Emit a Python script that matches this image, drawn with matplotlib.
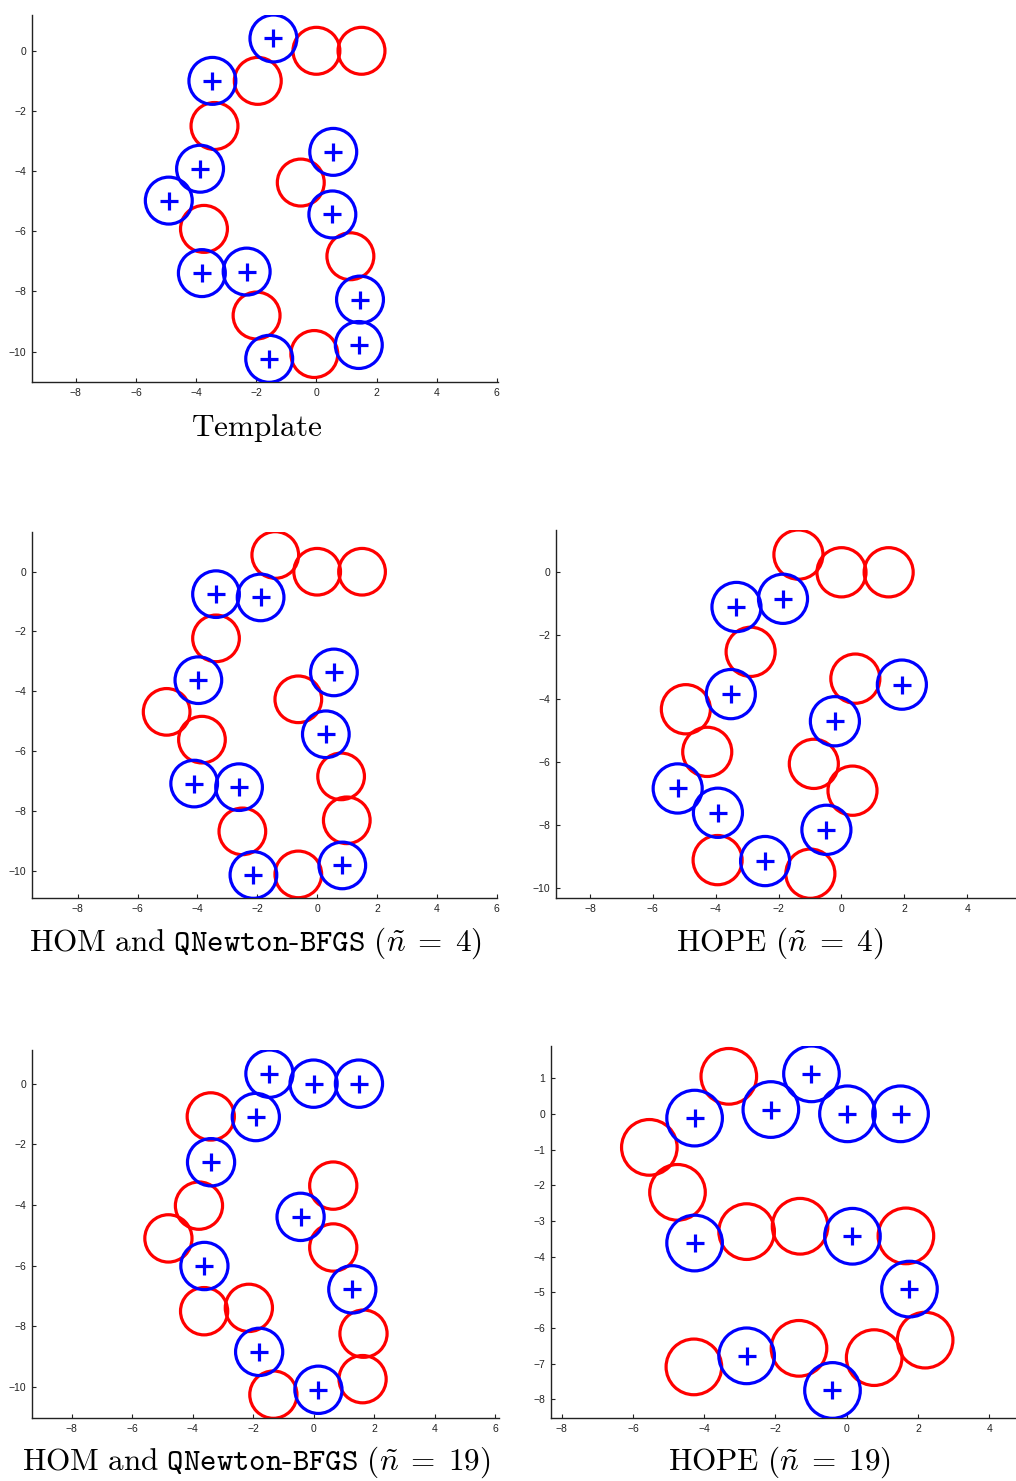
import matplotlib
matplotlib.use("Agg")
import matplotlib.pyplot as plt
from matplotlib.patches import Circle

plt.rcParams['mathtext.fontset'] = 'cm'
plt.rcParams['font.family'] = ['Liberation Sans', 'DejaVu Sans']

W, H = 1016, 1481
R = 0.78  # landmark radius

# Template shape
tmpl_blue_x = [-1.43, -3.46, 0.56, -3.87, -4.91, 0.53, -3.81, -2.32, 1.45, 1.41, -1.57]
tmpl_blue_y = [0.41, -1.00, -3.36, -3.92, -4.98, -5.44, -7.39, -7.34, -8.27, -9.78, -10.24]
tmpl_red_x = [0.0, 1.5, -1.95, -3.39, -0.52, -3.74, 1.13, -1.99, -0.07]
tmpl_red_y = [0.0, 0.0, -1.00, -2.50, -4.38, -5.92, -6.83, -8.80, -10.08]

# HOM and QNewton-BFGS, n = 4
hom4_blue_x = [-3.38, -1.89, 0.56, -3.97, 0.29, -4.11, -2.61, 0.84, -2.13]
hom4_blue_y = [-0.75, -0.86, -3.37, -3.63, -5.44, -7.09, -7.21, -9.83, -10.15]
hom4_red_x = [-1.40, 0.0, 1.5, -3.38, -0.63, -5.03, -3.85, 0.80, 0.99, -2.50, -0.63]
hom4_red_y = [0.56, 0.0, 0.0, -2.23, -4.27, -4.69, -5.62, -6.85, -8.32, -8.69, -10.13]

# HOPE, n = 4
hope4_blue_x = [-3.34, -1.86, -3.52, 1.92, -0.21, -5.21, -3.93, -0.48, -2.43]
hope4_blue_y = [-1.10, -0.84, -3.86, -3.56, -4.72, -6.85, -7.62, -8.16, -9.15]
hope4_red_x = [-1.37, 0.0, 1.5, -2.89, 0.44, -4.95, -4.27, -0.88, 0.35, -3.94, -0.99]
hope4_red_y = [0.56, 0.0, 0.0, -2.52, -3.37, -4.34, -5.69, -6.07, -6.92, -9.12, -9.55]

# HOM and QNewton-BFGS, n = 19
hom19_blue_x = [-1.46, 0.0, 1.5, -1.91, -3.39, -0.43, -3.61, 1.28, -1.80, 0.16]
hom19_blue_y = [0.33, 0.0, 0.0, -1.10, -2.59, -4.39, -6.01, -6.78, -8.84, -10.09]
hom19_red_x = [-3.40, 0.65, -3.79, -4.80, 0.65, -3.62, -2.14, 1.65, 1.62, -1.33]
hom19_red_y = [-1.08, -3.36, -4.02, -5.10, -5.40, -7.50, -7.39, -8.24, -9.74, -10.25]

# HOPE, n = 19
hope19_blue_x = [-4.27, -2.13, -0.99, 0.02, 1.51, -4.27, 0.16, 1.76, -2.81, -0.40]
hope19_blue_y = [-0.12, 0.12, 1.12, 0.0, 0.0, -3.62, -3.43, -4.91, -6.78, -7.75]
hope19_red_x = [-3.31, -5.54, -4.75, -2.81, -1.31, 1.66, -4.29, -1.34, 0.77, 2.20]
hope19_red_y = [1.05, -0.94, -2.20, -3.30, -3.15, -3.42, -7.09, -6.57, -6.83, -6.34]

panels = [
    # (blue x, blue y, red x, red y, box px (l, r, t, b), xlim, xticks, yticks, title, title centre px)
    (tmpl_blue_x, tmpl_blue_y, tmpl_red_x, tmpl_red_y,
     (31.7, 498, 15, 382.3), (-9.47, 6.04), range(-8, 7, 2), range(-10, 1, 2),
     r'$\mathrm{Template}$', (257, 428)),
    (hom4_blue_x, hom4_blue_y, hom4_red_x, hom4_red_y,
     (31.7, 496.7, 531.7, 898.3), (-9.54, 6.0), range(-8, 7, 2), range(-10, 1, 2),
     r'$\mathrm{HOM\ and\ }\mathtt{QNewton\text{-}BFGS}\ (\tilde{n}\;=\;4)$', (256, 943)),
    (hope4_blue_x, hope4_blue_y, hope4_red_x, hope4_red_y,
     (556, 1016, 530, 898.3), (-9.08, 5.55), range(-8, 5, 2), range(-10, 1, 2),
     r'$\mathrm{HOPE}\ (\tilde{n}\;=\;4)$', (780, 943)),
    (hom19_blue_x, hom19_blue_y, hom19_red_x, hom19_red_y,
     (31.7, 499, 1050, 1418.3), (-9.32, 6.13), range(-8, 7, 2), range(-10, 1, 2),
     r'$\mathrm{HOM\ and\ }\mathtt{QNewton\text{-}BFGS}\ (\tilde{n}\;=\;19)$', (256, 1462)),
    (hope19_blue_x, hope19_blue_y, hope19_red_x, hope19_red_y,
     (551, 1016, 1046, 1418.3), (-8.30, 4.75), range(-8, 5, 2), range(-8, 2, 1),
     r'$\mathrm{HOPE}\ (\tilde{n}\;=\;19)$', (780, 1462)),
]

fig = plt.figure(figsize=(W / 100, H / 100), dpi=100)

for bx, by, rx, ry, box, xlim, xticks, yticks, title, tpos in panels:
    l, r, t, b = box
    ax = fig.add_axes([l / W, 1 - b / H, (r - l) / W, (b - t) / H])
    for x, y in zip(rx, ry):
        ax.add_patch(Circle((x, y), R, fill=False, ec='#ff0000', lw=2.3, zorder=2))
    for x, y in zip(bx, by):
        ax.add_patch(Circle((x, y), R, fill=False, ec='#0000ff', lw=2.3, zorder=3))
    ax.plot(bx, by, '+', color='#0000ff', ms=13, mew=2.3, zorder=4)

    ally = list(by) + list(ry)
    ax.set_xlim(*xlim)
    ax.set_ylim(min(ally) - R, max(ally) + R)
    ax.set_xticks(list(xticks))
    ax.set_yticks(list(yticks))
    ax.tick_params(direction='in', length=3, width=0.8, labelsize=7.5,
                   colors='#222222', pad=4)
    for side in ('top', 'right'):
        ax.spines[side].set_visible(False)
    for side in ('left', 'bottom'):
        ax.spines[side].set_color('#222222')
        ax.spines[side].set_linewidth(1.0)

    fig.text(tpos[0] / W, 1 - tpos[1] / H, title, fontsize=22.5,
             ha='center', va='center')

fig.savefig('out.png', dpi=100)
